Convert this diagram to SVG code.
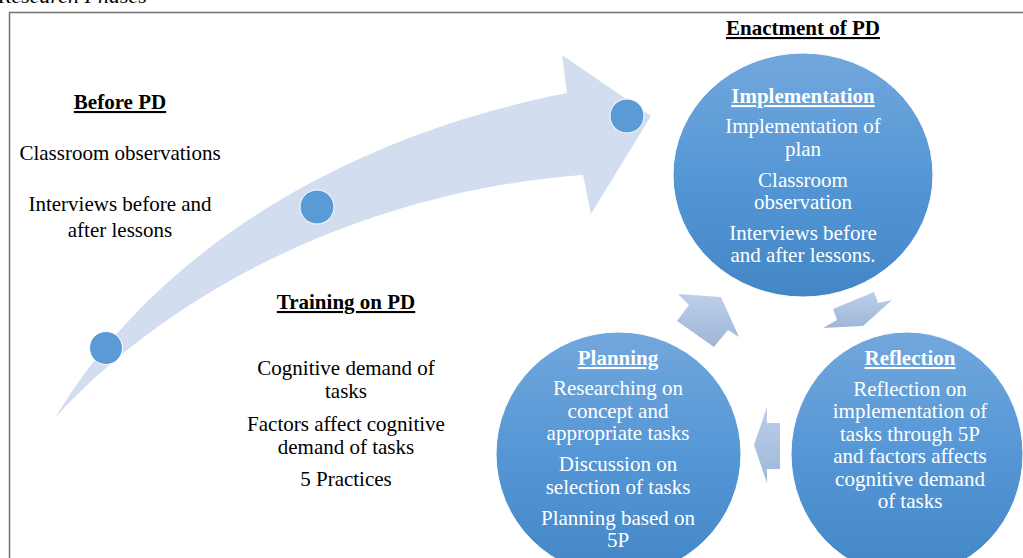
<svg xmlns="http://www.w3.org/2000/svg" width="1023" height="558" viewBox="0 0 1023 558">
  <defs>
    <linearGradient id="ballFill" x1="0" y1="0" x2="0" y2="1">
      <stop offset="0" stop-color="#72a7dc"/>
      <stop offset="0.5" stop-color="#5597d6"/>
      <stop offset="1" stop-color="#4386c6"/>
    </linearGradient>
    <linearGradient id="cycleFill" x1="0" y1="0" x2="0" y2="1">
      <stop offset="0" stop-color="#bccfea"/>
      <stop offset="1" stop-color="#9fb6d8"/>
    </linearGradient>
    <style>
      .frame { fill: none; stroke: #737373; stroke-width: 1.5; }
      .band { fill: #d2deef; }
      .dot { fill: #5b9bd5; stroke: #ffffff; stroke-width: 1; }
      .ball { fill: url(#ballFill); stroke: #ffffff; stroke-width: 1; }
      .cyc { fill: url(#cycleFill); }
      .t { font-family: "Liberation Serif", "Times New Roman", serif; font-size: 21px; text-anchor: middle; }
      .dark { fill: #000000; }
      .light { fill: #ffffff; }
      .head { font-weight: bold; text-decoration: underline; }
      .cap { font-family: "Liberation Serif", "Times New Roman", serif; font-size: 22px; font-style: italic; fill: #000000; }
    </style>
  </defs>

  <rect width="1023" height="558" fill="#ffffff"/>

  <!-- caption above the frame, mostly cut off -->
  <text class="cap" x="-2" y="3">Research Phases</text>

  <!-- frame -->
  <path class="frame" d="M9.5,558 V12.5 H1023"/>

  <!-- curved progress arrow with milestone dots -->
  <g id="progress-arrow">
    <path class="band" d="M55,418 C150,260 330,140 567,93 L562,55 L651,116 L591,214 L583,175 C380,190 180,280 55,418 Z"/>
    <circle class="dot" cx="106" cy="348" r="16.5"/>
    <circle class="dot" cx="317" cy="207" r="17"/>
    <circle class="dot" cx="627" cy="116" r="17"/>
  </g>

  <g id="before-pd">
    <text class="t dark head" x="120" y="109">Before PD</text>
    <text class="t dark" x="120" y="160">Classroom observations</text>
    <text class="t dark" x="120" y="211">Interviews before and</text>
    <text class="t dark" x="120" y="237">after lessons</text>
  </g>

  <g id="training-pd">
    <text class="t dark head" x="346" y="309">Training on PD</text>
    <text class="t dark" x="346" y="375">Cognitive demand of</text>
    <text class="t dark" x="346" y="398">tasks</text>
    <text class="t dark" x="346" y="431">Factors affect cognitive</text>
    <text class="t dark" x="346" y="454">demand of tasks</text>
    <text class="t dark" x="346" y="486">5 Practices</text>
  </g>

  <g id="enactment-title">
    <text class="t dark head" x="803" y="35">Enactment of PD</text>
  </g>

  <!-- cycle connectors -->
  <g id="connectors">
    <polygon class="cyc" points="721,297 739,337 728,330 714,347 677,321 689,305 678,294"/>
    <polygon class="cyc" points="833,309 874,292 878,303 892,300 863,326 823,328 837,320"/>
    <polygon class="cyc" points="754,445 767,407 767,423 780,423 780,469 767,469 767,483"/>
  </g>

  <g id="implementation">
    <ellipse class="ball" cx="803" cy="175" rx="130" ry="122"/>
    <text class="t light head" x="803" y="103">Implementation</text>
    <text class="t light" x="803" y="133">Implementation of</text>
    <text class="t light" x="803" y="156">plan</text>
    <text class="t light" x="803" y="187">Classroom</text>
    <text class="t light" x="803" y="209">observation</text>
    <text class="t light" x="803" y="240">Interviews before</text>
    <text class="t light" x="803" y="262">and after lessons.</text>
  </g>

  <g id="planning">
    <ellipse class="ball" cx="618.5" cy="454" rx="122.5" ry="122"/>
    <text class="t light head" x="618" y="365">Planning</text>
    <text class="t light" x="618" y="395">Researching on</text>
    <text class="t light" x="618" y="418">concept and</text>
    <text class="t light" x="618" y="440">appropriate tasks</text>
    <text class="t light" x="618" y="471">Discussion on</text>
    <text class="t light" x="618" y="494">selection of tasks</text>
    <text class="t light" x="618" y="525">Planning based on</text>
    <text class="t light" x="618" y="547">5P</text>
  </g>

  <g id="reflection">
    <ellipse class="ball" cx="907" cy="454" rx="116" ry="122"/>
    <text class="t light head" x="910" y="365">Reflection</text>
    <text class="t light" x="910" y="396">Reflection on</text>
    <text class="t light" x="910" y="418">implementation of</text>
    <text class="t light" x="910" y="441">tasks through 5P</text>
    <text class="t light" x="910" y="463">and factors affects</text>
    <text class="t light" x="910" y="486">cognitive demand</text>
    <text class="t light" x="910" y="508">of tasks</text>
  </g>
</svg>
